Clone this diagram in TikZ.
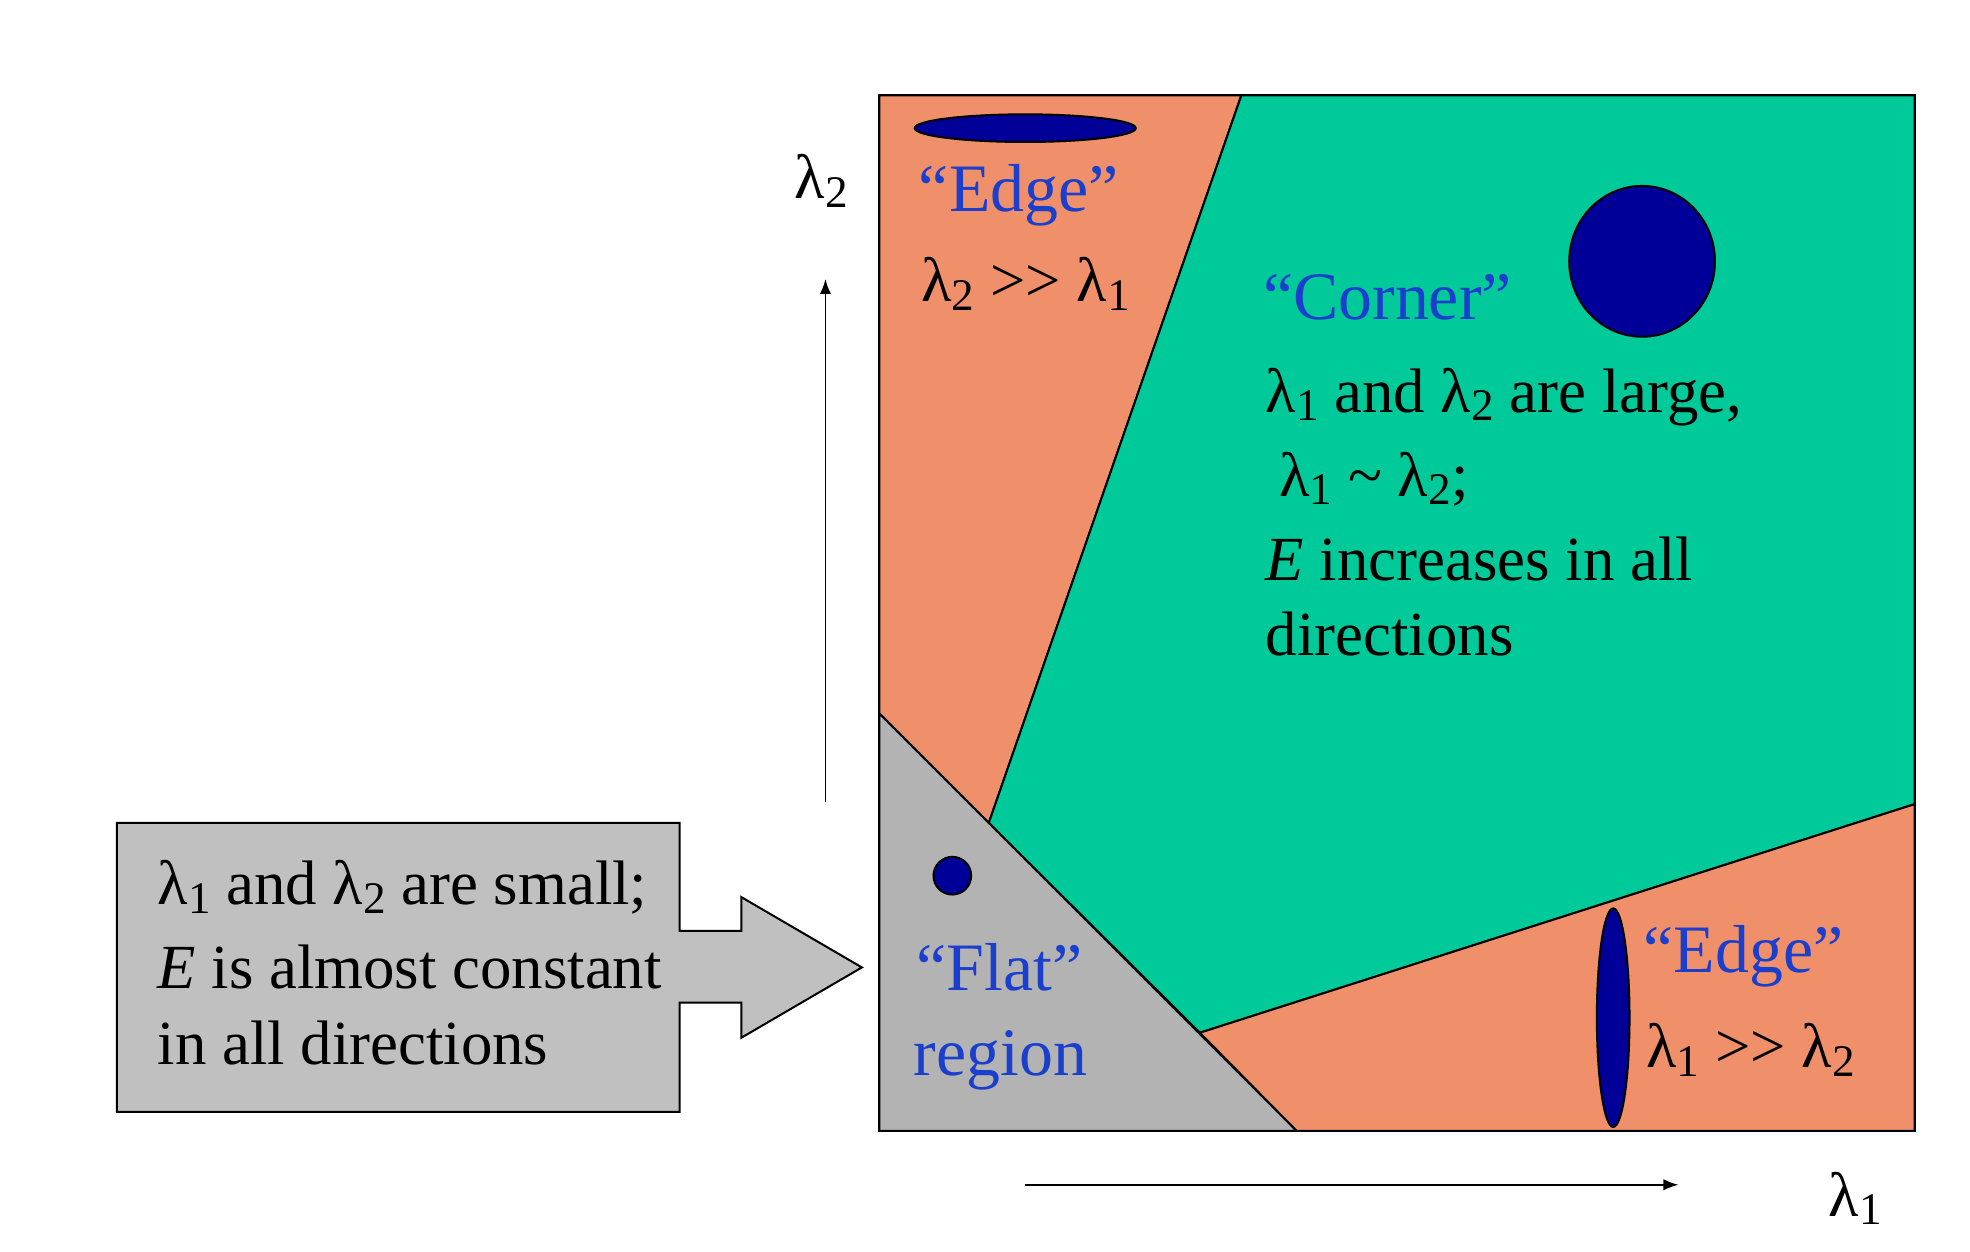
\documentclass[tikz,border=0pt]{standalone}
\usepackage{fontspec}
\usetikzlibrary{arrows.meta}
\setmainfont{Liberation Serif}
\definecolor{org}{HTML}{F0906A}
\definecolor{grn}{HTML}{00C99A}
\definecolor{gry}{HTML}{B3B3B3}
\definecolor{lgry}{HTML}{C0C0C0}
\definecolor{navy}{HTML}{000099}
\definecolor{lblue}{HTML}{1A3FCC}
\newcommand{\lam}[1]{λ\raisebox{-0.3ex}{\fontsize{18}{18}\selectfont #1}}
\newcommand{\mygg}{{>}{>}}
\begin{document}
\begin{tikzpicture}[x=0.5pt,y=-0.5pt,
  txt/.style={anchor=base west,inner sep=0,font=\fontsize{25}{28}\selectfont},
  blu/.style={txt,text=lblue,font=\fontsize{27}{30}\selectfont},
  blob/.style={fill=navy,draw=black,line width=0.8pt},
  reg/.style={draw=black,line width=0.8pt},
  ax/.style={-{Latex[length=6pt,width=4.5pt]},line width=0.7pt}]
\useasboundingbox (0,0) rectangle (1568,996.5);
\fill[org,reg] (700,76)--(988,76)--(787,655)--(700,568)--cycle;
\fill[grn,reg] (988,76)--(1524,76)--(1524,640)--(955,822)--(787,655)--cycle;
\fill[gry,reg] (700,568)--(1032,900)--(700,900)--cycle;
\fill[org,reg] (955,822)--(1524,640)--(1524,900)--(1032,900)--cycle;
\draw[line width=0.8pt] (700,76) rectangle (1524,900);
\draw[blob] (816,102) ellipse [x radius=88,y radius=11];
\draw[blob] (1307,208) ellipse [x radius=58,y radius=60];
\draw[blob] (758,697) circle [radius=15];
\draw[blob] (1284,810) ellipse [x radius=13,y radius=87];
\coordinate (v0) at (657,638); \coordinate (v1) at (657,222);
\coordinate (h0) at (816,943); \coordinate (h1) at (1336,943);
\draw[ax] (v0)--(v1);
\draw[ax] (h0)--(h1);
\node[txt] (l2) at (632,158) {\lam{2}};
\node[txt] (l1) at (1455,968) {\lam{1}};
\fill[lgry,draw=black,line width=0.8pt] (93,655)--(541,655)--(541,741)--(590,741)--(590,714)--(686,770)--(590,826)--(590,798)--(541,798)--(541,885)--(93,885)--cycle;
\node[txt] (s1) at (125,720) {\lam{1} and \lam{2} are small;};
\node[txt] (s2) at (125,787) {\textit{E} is almost constant};
\node[txt] (s3) at (125,847) {in all directions};
\node[blu] (e1) at (731,168) {“Edge”};
\node[txt] (e2) at (733,240) {\lam{2} \mygg{} \lam{1}};
\node[blu] (c0) at (1005,254) {“Corner”};
\node[txt] (c1) at (1007,328) {\lam{1} and \lam{2} are large,};
\node[txt] (c2) at (1018,395) {\lam{1} \textasciitilde{} \lam{2};};
\node[txt] (c3) at (1007,462) {\textit{E} increases in all};
\node[txt] (c4) at (1007,522) {directions};
\node[blu] (f1) at (729,788) {“Flat”};
\node[blu] (f2) at (727,856) {region};
\node[blu] (b1) at (1308,774) {“Edge”};
\node[txt] (b2) at (1310,850) {\lam{1} \mygg{} \lam{2}};
\end{tikzpicture}
\end{document}
